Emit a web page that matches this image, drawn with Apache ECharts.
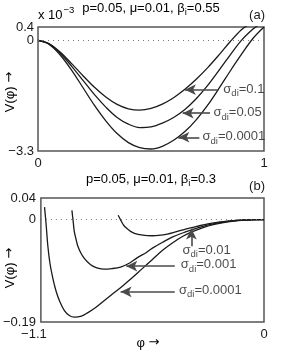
<!DOCTYPE html>
<html><head><meta charset="utf-8">
<script src="https://cdn.jsdelivr.net/npm/echarts@6/dist/echarts.min.js"></script>
<style>html,body{margin:0;padding:0;background:#fff}#c{width:292px;height:363px}</style>
</head><body><div id="c"></div>
<script>
// ---- Panel (a): V(phi) in units of 1e-3 ----
const phiA1 = [0,0.05,0.1,0.15,0.2,0.25,0.3,0.35,0.4,0.45,0.5,0.55,0.6,0.65,0.7,0.75,0.8,0.85,0.9,0.93];
const vA1   = [0,-0.1,-0.36,-0.70,-1.06,-1.40,-1.69,-1.91,-2.04,-2.08,-2.03,-1.90,-1.71,-1.46,-1.16,-0.82,-0.44,-0.04,0.32,0.46];
const phiA2 = [0,0.05,0.1,0.15,0.2,0.25,0.3,0.35,0.4,0.45,0.5,0.55,0.6,0.65,0.7,0.75,0.8,0.85,0.9,0.95,0.975];
const vA2   = [0,-0.11,-0.40,-0.78,-1.20,-1.62,-1.99,-2.30,-2.50,-2.60,-2.58,-2.47,-2.30,-2.06,-1.74,-1.35,-0.90,-0.44,0.0,0.33,0.45];
const phiA3 = [0,0.05,0.1,0.15,0.2,0.25,0.3,0.35,0.4,0.45,0.5,0.55,0.6,0.65,0.7,0.75,0.8,0.85,0.9,0.95,1.0];
const vA3   = [0,-0.12,-0.45,-0.90,-1.42,-1.94,-2.40,-2.78,-3.05,-3.20,-3.24,-3.16,-2.98,-2.72,-2.37,-1.94,-1.44,-0.92,-0.42,0.05,0.40];
const xTicksA = [0, 1];
const yTicksA = [-3.3, 0, 0.4];
const arrowsA = [[0.798,-1.47,0.650,-1.47],[0.761,-2.17,0.640,-2.17],[0.714,-2.89,0.621,-2.89]];
const labelsA = [[0.820,-1.45,'0.1'],[0.776,-2.15,'0.05'],[0.728,-2.87,'0.0001']];

// ---- Panel (b) ----
const phiB1 = [-1.082,-1.074,-1.066,-1.055,-1.041,-1.025,-1.007,-0.984,-0.96,-0.935,-0.90,-0.87,-0.83,-0.79,-0.75,-0.70,-0.65,-0.60,-0.55,-0.50,-0.45,-0.40,-0.35,-0.30,-0.25,-0.20,-0.15,-0.10,-0.05,0];
const vB1   = [0.023,-0.01,-0.048,-0.082,-0.109,-0.133,-0.152,-0.169,-0.178,-0.181,-0.179,-0.173,-0.163,-0.151,-0.139,-0.124,-0.108,-0.091,-0.074,-0.057,-0.043,-0.031,-0.022,-0.015,-0.0095,-0.0055,-0.0028,-0.0011,-0.0003,0];
const phiB2 = [-0.947,-0.941,-0.935,-0.927,-0.919,-0.903,-0.886,-0.866,-0.846,-0.82,-0.789,-0.75,-0.707,-0.66,-0.626,-0.58,-0.55,-0.5,-0.45,-0.394,-0.35,-0.3,-0.25,-0.2,-0.15,-0.1,-0.05,0];
const vB2   = [0.017,-0.003,-0.023,-0.036,-0.048,-0.062,-0.072,-0.080,-0.086,-0.090,-0.092,-0.091,-0.088,-0.080,-0.071,-0.061,-0.053,-0.042,-0.032,-0.024,-0.018,-0.0125,-0.008,-0.0046,-0.0022,-0.0009,-0.0002,0];
const phiB3 = [-0.719,-0.705,-0.691,-0.675,-0.658,-0.635,-0.61,-0.575,-0.55,-0.52,-0.476,-0.44,-0.394,-0.35,-0.313,-0.27,-0.231,-0.19,-0.15,-0.1,-0.05,0];
const vB3   = [0.008,-0.002,-0.011,-0.017,-0.022,-0.026,-0.028,-0.0298,-0.030,-0.0295,-0.027,-0.0235,-0.0185,-0.0145,-0.011,-0.0077,-0.0052,-0.0035,-0.002,-0.0008,-0.0002,0];
const xTicksB = [-1.1, 0];
const yTicksB = [-0.19, 0, 0.04];
const arrowsB = [[-0.358,-0.0495,-0.358,-0.0168],[-0.440,-0.0865,-0.679,-0.0865],[-0.440,-0.134,-0.707,-0.134]];
const labelsB = [[-0.402,-0.057,'0.01'],[-0.410,-0.084,'0.001'],[-0.419,-0.131,'0.0001']];

const F = '"Liberation Sans", Arial, Helvetica, sans-serif';
const FA = '"DejaVu Sans", sans-serif';
const INK = '#1a1a1a';
const zip = (xs, ys) => xs.map((x, i) => [x, ys[i]]);
const fmt = v => (v < 0 ? '\u2212' : '') + Math.abs(v);

const rich = {
  m: {fontSize: 13, fontFamily: F, color: INK},
  s: {fontSize: 9.5, fontFamily: F, color: INK, padding: [9, 0, 0, 0]},
  a: {fontSize: 13, fontFamily: FA, color: INK},
  sh: {fontSize: 13, fontFamily: F, color: INK, padding: [0, 14, 0, 0]}
};

function curve(name, xi, data) {
  return {name, type: 'line', xAxisIndex: xi, yAxisIndex: xi, data, smooth: 0.35,
    showSymbol: false, symbol: 'none', clip: true, lineStyle: {color: INK, width: 1.3}, silent: true, z: 3};
}
function annot(xi, labels, arrows) {
  return {type: 'scatter', xAxisIndex: xi, yAxisIndex: xi, symbolSize: 0, silent: true, z: 5,
    data: labels.map(l => ({value: [l[0], l[1]], txt: l[2]})),
    label: {show: true, position: 'right', distance: 0,
      formatter: p => '{m|\u03c3}{s|di}{m|=' + p.data.txt + '}', rich},
    markLine: {silent: true, animation: false, symbol: ['none', 'arrow'], symbolSize: [8, 11],
      label: {show: false}, lineStyle: {color: '#4a4a4a', width: 1.6, type: 'solid'},
      data: arrows.map(a => [{coord: [a[0], a[1]]}, {coord: [a[2], a[3]]}])}
  };
}
function zeroLine(xi) {
  return {type: 'line', xAxisIndex: xi, yAxisIndex: xi, data: [], silent: true,
    markLine: {silent: true, animation: false, symbol: 'none', label: {show: false},
      lineStyle: {color: '#777', width: 1, type: [1, 4]}, data: [{yAxis: 0}]}};
}
const axisCommon = {axisLine: {show: false}, axisTick: {show: false}, splitLine: {show: false}};

const option = {
  animation: false,
  backgroundColor: '#fff',
  grid: [
    {left: 38, right: 28, top: 27, height: 124, show: true, borderColor: '#555', borderWidth: 1.5},
    {left: 39, right: 28, top: 198, height: 124, show: true, borderColor: '#555', borderWidth: 1.5}
  ],
  xAxis: [
    Object.assign({type: 'value', gridIndex: 0, min: 0, max: 1,
      axisLabel: {customValues: xTicksA, formatter: fmt, margin: 6, fontSize: 13, fontFamily: F, color: INK}}, axisCommon),
    Object.assign({type: 'value', gridIndex: 1, min: -1.1, max: 0,
      axisLabel: {customValues: xTicksB, formatter: v => v < 0 ? '{sh|' + fmt(v) + '}' : '{m|' + fmt(v) + '}', rich,
        margin: 6, fontSize: 13, fontFamily: F, color: INK}}, axisCommon)
  ],
  yAxis: [
    Object.assign({type: 'value', gridIndex: 0, min: -3.3, max: 0.4,
      axisLabel: {customValues: yTicksA, formatter: fmt, margin: 4, fontSize: 13, fontFamily: F, color: INK}}, axisCommon),
    Object.assign({type: 'value', gridIndex: 1, min: -0.19, max: 0.04,
      axisLabel: {customValues: yTicksB, formatter: fmt, margin: 5, fontSize: 13, fontFamily: F, color: INK}}, axisCommon)
  ],
  graphic: [
    {type: 'text', x: 151, y: 8, style: {text: '{m|p=0.05, \u03bc=0.01, \u03b2}{s|i}{m|=0.55}', align: 'center', verticalAlign: 'middle', rich}},
    {type: 'text', x: 38, y: 15, style: {text: '{m|x 10}{p|\u22123}', align: 'left', verticalAlign: 'middle',
      rich: {m: rich.m, p: {fontSize: 9.5, fontFamily: F, color: INK, padding: [0, 0, 9, 1]}}}},
    {type: 'text', x: 265, y: 15, style: {text: '(a)', align: 'right', verticalAlign: 'middle', font: '13px ' + F, fill: INK}},
    {type: 'text', x: 151, y: 179, style: {text: '{m|p=0.05, \u03bc=0.01, \u03b2}{s|i}{m|=0.3}', align: 'center', verticalAlign: 'middle', rich}},
    {type: 'text', x: 265, y: 186, style: {text: '(b)', align: 'right', verticalAlign: 'middle', font: '13px ' + F, fill: INK}},
    {type: 'text', x: 10, y: 92, rotation: Math.PI / 2, style: {text: '{m|V(\u03c6) }{a|\u2192}', align: 'center', verticalAlign: 'middle', rich}},
    {type: 'text', x: 10, y: 268, rotation: Math.PI / 2, style: {text: '{m|V(\u03c6) }{a|\u2192}', align: 'center', verticalAlign: 'middle', rich}},
    {type: 'text', x: 148, y: 343, style: {text: '{m|\u03c6 }{a|\u2192}', align: 'center', verticalAlign: 'middle', rich}}
  ],
  series: [
    zeroLine(0),
    curve('a1', 0, zip(phiA1, vA1)),
    curve('a2', 0, zip(phiA2, vA2)),
    curve('a3', 0, zip(phiA3, vA3)),
    annot(0, labelsA, arrowsA),
    zeroLine(1),
    curve('b1', 1, zip(phiB1, vB1)),
    curve('b2', 1, zip(phiB2, vB2)),
    curve('b3', 1, zip(phiB3, vB3)),
    annot(1, labelsB, arrowsB)
  ]
};
const chart = echarts.init(document.getElementById('c'), null, {renderer: 'canvas'});
chart.setOption(option);
</script></body></html>
